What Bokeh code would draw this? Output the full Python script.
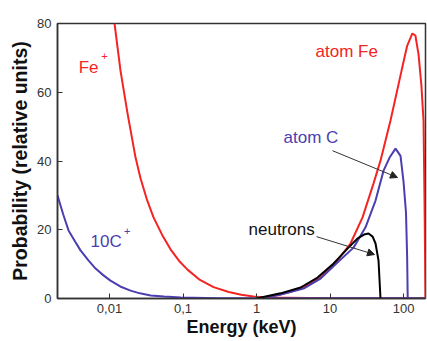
from bokeh.plotting import figure
from bokeh.models import FixedTicker, Label, Arrow, NormalHead, Range1d
from bokeh.embed import file_html
from bokeh.resources import INLINE

# ---- data ----
x_ticks = [0.01, 0.1, 1, 10, 100]
x_tick_labels = ["0,01", "0,1", "1", "10", "100"]
y_ticks = [0, 20, 40, 60, 80]

fe_ion_e = [0.0117, 0.0141, 0.0176, 0.0226, 0.0264, 0.032, 0.0397, 0.052, 0.0676, 0.088,
            0.115, 0.17, 0.26, 0.42, 0.62, 0.91, 1.3, 10, 199]
fe_ion_p = [80, 66.3, 53.8, 41.0, 35.0, 29.0, 23.6, 18.5, 14.3, 11.0,
            8.4, 5.4, 3.3, 1.9, 1.1, 0.6, 0.3, 0.1, 0.1]

c_ion_e = [0.00196, 0.00234, 0.00277, 0.0034, 0.00403, 0.0052, 0.00646, 0.0082, 0.0103,
           0.014, 0.0193, 0.026, 0.0363, 0.055, 0.0933, 0.3, 1, 199]
c_ion_p = [30.0, 24.5, 19.8, 16.6, 14.0, 11.0, 8.7, 6.8, 5.2,
           3.5, 2.3, 1.5, 0.9, 0.55, 0.3, 0.1, 0.05, 0.05]

fe_atom_e = [1, 2, 3, 4.36, 7.43, 12.6, 19.0, 27.7, 39.1, 48.6, 66.5, 94.0, 112, 132, 145,
             160, 175, 187, 193, 199]
fe_atom_p = [0, 1.0, 2.0, 3.2, 6.1, 11.1, 16.0, 23.6, 33.5, 40.1, 51.8, 66.3, 73.5, 77.1, 76.5,
             71.0, 62.0, 51.8, 28.5, 0]

c_atom_e = [1, 2, 4.36, 7.43, 12.6, 20.9, 30.4, 41.6, 53.5, 64.6, 77.8, 91, 100, 108, 112, 114]
c_atom_p = [0, 1.0, 2.9, 5.8, 10.5, 14.8, 20.7, 28.5, 37.2, 41.0, 43.6, 41.5, 34.0, 25.0, 12.0, 0]

n_e = [1, 2.12, 3.98, 6.76, 11.2, 17.3, 23.7, 29.0, 33.4, 38.0, 41.6, 45.7, 48.6]
n_p = [0, 1.5, 3.2, 6.1, 10.2, 14.5, 17.5, 18.6, 18.9, 18.0, 16.0, 11.0, 0]

RED = "#f42424"
BLUE = "#4b3fb0"
FONT = "Liberation Sans"

p = figure(width=427, height=341, x_axis_type="log",
           x_range=Range1d(0.00196, 199), y_range=Range1d(0, 80),
           output_backend="svg", toolbar_location=None,
           min_border_left=57, min_border_right=2, min_border_top=23, min_border_bottom=43)

p.background_fill_color = "white"
p.border_fill_color = "white"
p.outline_line_color = "#333333"
p.outline_line_width = 1.5
p.xgrid.visible = False
p.ygrid.visible = False

p.xaxis.ticker = FixedTicker(ticks=x_ticks, minor_ticks=[])
p.xaxis.major_label_overrides = {t: l for t, l in zip(x_ticks, x_tick_labels)}
p.yaxis.ticker = FixedTicker(ticks=y_ticks, minor_ticks=[])

for ax in (p.xaxis[0], p.yaxis[0]):
    ax.axis_line_color = "#333333"
    ax.axis_line_width = 1.5
    ax.major_tick_in = 5
    ax.major_tick_out = 0
    ax.major_tick_line_color = "#333333"
    ax.minor_tick_line_color = None
    ax.major_label_text_font = FONT
    ax.major_label_text_font_size = "13px"
    ax.major_label_text_color = "#333333"
    ax.axis_label_text_font = FONT
    ax.axis_label_text_font_style = "bold"
    ax.axis_label_text_color = "#111111"

p.xaxis.axis_label_text_font_size = "18px"
p.yaxis.axis_label_text_font_size = "19.5px"
p.xaxis.axis_label = "Energy (keV)"
p.yaxis.axis_label = "Probability (relative units)"
p.xaxis.major_label_standoff = 5
p.xaxis.axis_label_standoff = 1
p.yaxis.major_label_standoff = 6
p.yaxis.axis_label_standoff = 3

p.line(fe_ion_e, fe_ion_p, line_color=RED, line_width=2)
p.line(c_ion_e, c_ion_p, line_color=BLUE, line_width=2)
p.line(fe_atom_e, fe_atom_p, line_color=RED, line_width=2)
p.line(c_atom_e, c_atom_p, line_color=BLUE, line_width=2)
p.line(n_e, n_p, line_color="black", line_width=2)

def lab(x, y, text, color, size="17px"):
    p.add_layout(Label(x=x, y=y, text=text, text_color=color, text_font=FONT,
                       text_font_size=size, text_baseline="alphabetic", text_align="left"))

lab(0.0038, 67.3, "Fe", RED)
lab(0.0077, 70.5, "+", RED, "11px")
lab(0.00552, 16.6, "10C", BLUE)
lab(0.0157, 19.6, "+", BLUE, "11px")
lab(6.35, 71.9, "atom Fe", RED)
lab(2.33, 46.9, "atom C", BLUE)
lab(0.778, 20.1, "neutrons", "#111111")

p.add_layout(Arrow(end=NormalHead(size=7, fill_color="#222222", line_color="#222222"),
                   x_start=10.8, y_start=43.0, x_end=82.8, y_end=35.2,
                   line_color="#333333", line_width=1))
p.add_layout(Arrow(end=NormalHead(size=7, fill_color="#222222", line_color="#222222"),
                   x_start=6.55, y_start=18.0, x_end=40.3, y_end=12.8,
                   line_color="#333333", line_width=1))

open("out.html", "w").write(file_html(p, INLINE))
